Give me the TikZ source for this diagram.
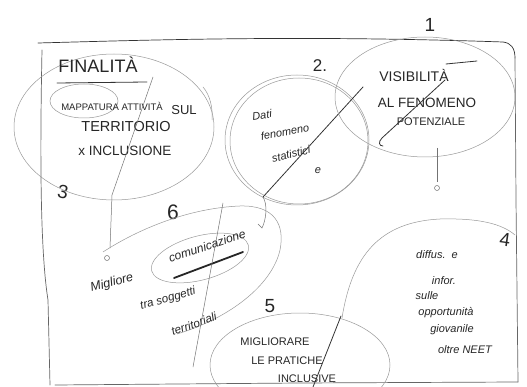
\documentclass[tikz,border=0pt]{standalone}
\usepackage{fontspec}
\setmainfont{Liberation Sans}
\newcommand{\fsz}[1]{\fontsize{#1}{#1}\selectfont}
\tikzset{
  pencil/.style={draw=black!40, line width=0.5pt},
  inkline/.style={draw=black!80, line width=0.8pt, line cap=round},
  framel/.style={draw=black!60, line width=0.7pt, line cap=round},
  hand/.style={text=black!85, inner sep=0pt},
  capt/.style={hand, font=\fsz{11}},
  cursive/.style={hand, font=\itshape\fsz{11}},
  numl/.style={hand, font=\fsz{19}},
}
\begin{document}
\begin{tikzpicture}[x=1pt, y=-1pt]
\useasboundingbox (0,0) rectangle (527,387);
\fill[white] (0,0) rectangle (527,387);

% outer frame
\draw[framel, draw=black!80] (38,43) .. controls (150,40) and (300,35) .. (503,42)
      .. controls (511,43) and (515,48) .. (515,58);
\draw[framel] (515,58) -- (516,200) -- (518,382);
\draw[framel] (55,385) -- (300,383) -- (518,382);
\draw[framel] (42,50) .. controls (40,150) and (40,250) .. (48,300) -- (50,385);

% numbers
\node[numl] (n1) at (430,25) {1};
\node[numl, font=\fsz{17}] (n2) at (320,66) {2.};
\node[numl, rotate=-10] (n3) at (63,192) {3};
\node[numl, font=\fsz{21}] (n6) at (173,212) {6};
\node[numl] (n5) at (270,306) {5};
\node[numl, rotate=-8] (n4) at (505,240) {4};

% area 3: aims
\draw[pencil] (114,127) ellipse [x radius=100pt, y radius=73pt];
\draw[pencil] (203,87) .. controls (210,95) and (213,108) .. (212,120);
\draw[pencil] (84,101) ellipse [x radius=34pt, y radius=17pt];
\node[hand, font=\fsz{18}] (fin) at (98,65) {FINALITÀ};
\draw[inkline] (57,83) -- (147,82);
\node[capt, font=\fsz{9.5}] (t3a) at (112,106) {MAPPATURA ATTIVITÀ};
\node[capt, font=\fsz{13}] (t3s) at (184,110) {SUL};
\node[capt, font=\fsz{14.5}] (t3b) at (126,127) {TERRITORIO};
\node[capt, font=\fsz{13.5}] (t3c) at (125,151) {x INCLUSIONE};
\coordinate (c3a) at (153,77);
\coordinate (c3b) at (112,195);
\coordinate (c3c) at (110,248);
\draw[pencil, draw=black!55] (c3a) -- (c3b) -- (c3c);
\draw[pencil, draw=black!55] (107,258) circle [radius=2.5pt];

% area 2
\draw[pencil] (297,140) ellipse [x radius=72pt, y radius=65pt];
\draw[pencil] (299,141) ellipse [x radius=69pt, y radius=63pt];
\node[cursive, rotate=8] (t2a) at (262,115) {Dati};
\node[cursive, rotate=10] (t2b) at (285,132) {fenomeno};
\node[cursive, rotate=14] (t2c) at (291,154) {statistici};
\node[cursive] (t2d) at (318,171) {e};
\coordinate (c2a) at (363,87);
\coordinate (c2b) at (263,197);
\coordinate (c2c) at (262,228);
\draw[inkline] (c2a) -- (c2b);
\draw[pencil, draw=black!55] (c2b) .. controls (268,205) and (266,220) .. (c2c) -- (258,224);

% area 1
\draw[pencil] (425,97) ellipse [x radius=90pt, y radius=60pt];
\node[capt, font=\fsz{14}] (t1a) at (414,76) {VISIBILITÀ};
\node[capt, font=\fsz{13.5}] (t1b) at (427,103) {AL FENOMENO};
\node[capt, font=\fsz{11}] (t1c) at (431,122) {POTENZIALE};
\draw[inkline] (446,64) -- (477,61);
\coordinate (c1a) at (445,80);
\coordinate (c1b) at (382,138);
\draw[inkline] (c1a) -- (c1b) .. controls (378,142) and (379,146) .. (383,146);
\coordinate (c1c) at (437,148);
\coordinate (c1d) at (437,182);
\draw[pencil, draw=black!55] (c1c) -- (c1d);
\draw[pencil, draw=black!55] (437,188) circle [radius=2.5pt];

% area 6
\draw[pencil] (103,252) .. controls (140,228) and (190,208) .. (240,206)
      .. controls (275,205) and (285,225) .. (280,250)
      .. controls (272,285) and (230,318) .. (177,334);
\draw[pencil] (200,258) ellipse [x radius=50pt, y radius=22pt, rotate=15];
\node[cursive, font=\itshape\fsz{12.5}, rotate=15] (t6a) at (112,283) {Migliore};
\node[cursive, font=\itshape\fsz{12}, rotate=18] (t6b) at (207,246) {comunicazione};
\node[cursive, font=\itshape\fsz{11.5}, rotate=16] (t6c) at (168,299) {tra soggetti};
\node[cursive, font=\itshape\fsz{11.5}, rotate=20] (t6d) at (194,324) {territoriali};
\draw[draw=black!85, line width=1.8pt, line cap=round] (174,278) -- (243,252);
\coordinate (c6a) at (223,203);
\coordinate (c6b) at (193,367);
\draw[pencil, draw=black!55] (c6a) -- (c6b);

% area 5
\draw[pencil] (300,365) ellipse [x radius=90pt, y radius=52pt];
\node[capt] (t5a) at (275,342) {MIGLIORARE};
\node[capt] (t5b) at (287,361) {LE PRATICHE};
\node[capt] (t5c) at (307,379) {INCLUSIVE};
\coordinate (c5a) at (341,316);
\coordinate (c5b) at (313,387);
\draw[inkline] (c5a) -- (c5b);

% area 4
\draw[pencil] (342,318) .. controls (352,255) and (380,222) .. (440,219)
      .. controls (480,218) and (502,224) .. (515,235);
\node[cursive] (t4a) at (437,255) {diffus.\ \ e};
\node[cursive] (t4b) at (444,281) {infor.};
\node[cursive] (t4c) at (427,296) {sulle};
\node[cursive] (t4d) at (446,313) {opportunità};
\node[cursive] (t4e) at (452,330) {giovanile};
\node[cursive] (t4f) at (465,350) {oltre NEET};
\end{tikzpicture}
\end{document}
